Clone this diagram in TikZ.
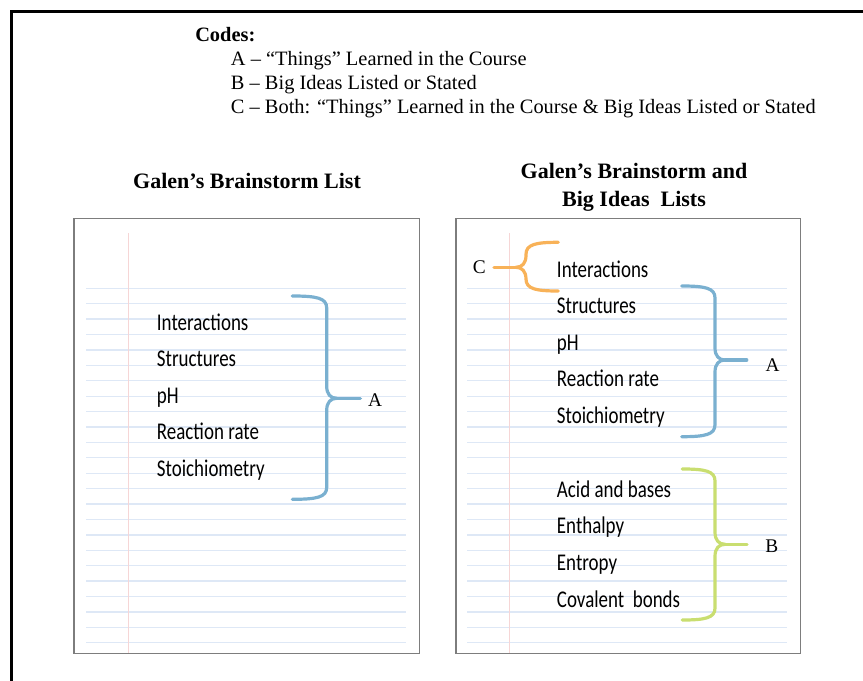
\documentclass[tikz,border=0pt]{standalone}
\usepackage{fontspec}
\setmainfont{Liberation Serif}
\newfontfamily\handfont[FakeStretch=0.79]{Carlito}
\definecolor{braceblue}{RGB}{122,176,208}
\definecolor{braceorange}{RGB}{248,178,88}
\definecolor{bracegreen}{RGB}{201,222,112}
\definecolor{ruleblue}{RGB}{222,232,246}
\definecolor{marginpink}{RGB}{246,214,214}
\definecolor{boxgray}{RGB}{125,125,125}
% color, xe, yt, xv, yc, yb, dir, cusp-name
\newcommand\mybrace[8]{%
\draw[brace,#1] (#2,#3) .. controls ({#4-(#7)*10},#3) and (#4,{#3+2}) .. (#4,{#3+12})
  -- (#4,{#5-12}) .. controls (#4,{#5-4}) and ({#4+(#7)*4},#5) .. ({#4+(#7)*10},#5)
  coordinate (#8)
  .. controls ({#4+(#7)*4},#5) and (#4,{#5+4}) .. (#4,{#5+12})
  -- (#4,{#6-12}) .. controls (#4,{#6-2}) and ({#4-(#7)*10},#6) .. (#2,#6);}
\begin{document}
\begin{tikzpicture}[x=0.75pt,y=-0.75pt,
  hand/.style={font=\handfont\fontsize{18}{20}\selectfont, anchor=base west, inner sep=0},
  codetext/.style={font=\fontsize{15.3}{18}\selectfont, anchor=base west, inner sep=0},
  titletext/.style={font=\bfseries\fontsize{16.5}{20}\selectfont, anchor=base, inner sep=0},
  lbl/.style={font=\fontsize{14.5}{17}\selectfont, inner sep=0},
  paperbox/.style={draw=boxgray, line width=1.1pt, fill=white},
  paperrule/.style={draw=ruleblue, line width=1pt},
  marginline/.style={draw=marginpink, line width=0.8pt},
  brace/.style={line width=2.4pt, line cap=round, line join=round},
  tail/.style={line width=2.4pt, line cap=round},
]
\useasboundingbox (0,0) rectangle (863,681);
\fill[white] (0,0) rectangle (863,681);
% outer frame
\draw[line width=2.6pt] (11.5,681) -- (11.5,11.3) -- (863,11.3);

% codes
\node[codetext, font=\bfseries\fontsize{15.3}{18}\selectfont] (codes) at (195,41.7) {Codes:};
\node[codetext] (codeA) at (230.7,66) {A – “Things” Learned in the Course};
\node[codetext] (codeB) at (230.7,90) {B – Big Ideas Listed or Stated};
\node[codetext] (codeC) at (230.7,114) {C – Both: “Things” Learned in the Course \& Big Ideas Listed or Stated};

% titles
\node[titletext] (title1) at (247,189) {Galen’s Brainstorm List};
\node[titletext] (title2a) at (634,178.5) {Galen’s Brainstorm and};
\node[titletext] (title2b) at (634,206.5) {Big Ideas~ Lists};

% left paper
\draw[paperbox] (74,218.7) rectangle (419.3,653.3);
\foreach \k in {0,...,23}
  \draw[paperrule] (86,{288.3+\k*15.41}) -- (405.7,{288.3+\k*15.41});
\draw[marginline] (128.3,233) -- (128.3,653.3);

% right paper
\draw[paperbox] (456,218.7) rectangle (800.3,653.3);
\foreach \k in {0,...,23}
  \draw[paperrule] (467.3,{288.3+\k*15.41}) -- (786.7,{288.3+\k*15.41});
\draw[marginline] (509.3,233) -- (509.3,653.3);

% left list
\node[hand] (l1) at (156.7,330) {Interactions};
\node[hand] (l2) at (156.7,366.5) {Structures};
\node[hand] (l3) at (156.7,403) {pH};
\node[hand] (l4) at (156.7,439.5) {Reaction rate};
\node[hand] (l5) at (156.7,476) {Stoichiometry};

% right list
\node[hand] (r1) at (556.7,277) {Interactions};
\node[hand] (r2) at (556.7,313) {Structures};
\node[hand] (r3) at (556.7,350) {pH};
\node[hand] (r4) at (556.7,386) {Reaction rate};
\node[hand] (r5) at (556.7,423) {Stoichiometry};
\node[hand] (r6) at (556.7,497) {Acid and bases};
\node[hand] (r7) at (556.7,533.5) {Enthalpy};
\node[hand] (r8) at (556.7,570) {Entropy};
\node[hand] (r9) at (556.7,607) {Covalent~ bonds};

% labels
\node[lbl] (labA1) at (375,400) {A};
\node[lbl] (labA2) at (772.7,365) {A};
\node[lbl] (labB) at (771.7,546) {B};
\node[lbl] (labC) at (479.3,267.3) {C};

% braces
\mybrace{braceblue}{292.3}{296}{326.7}{398.3}{499.3}{1}{cA1}
\draw[tail,braceblue,shorten >=5.5pt] (cA1) -- (cA1 -| labA1.west);
\mybrace{braceblue}{681.7}{286}{715}{360}{436.7}{1}{cA2}
\draw[tail,braceblue,shorten >=14pt] (cA2) -- (cA2 -| labA2.west);
\mybrace{bracegreen}{682.3}{469}{715}{544.3}{620}{1}{cB}
\draw[tail,bracegreen,shorten >=13.5pt] (cB) -- (cB -| labB.west);
\mybrace{braceorange}{558.3}{242.3}{526}{267.3}{291}{-1}{cC}
\draw[tail,braceorange,shorten >=6pt] (cC) -- (cC -| labC.east);
\end{tikzpicture}
\end{document}
